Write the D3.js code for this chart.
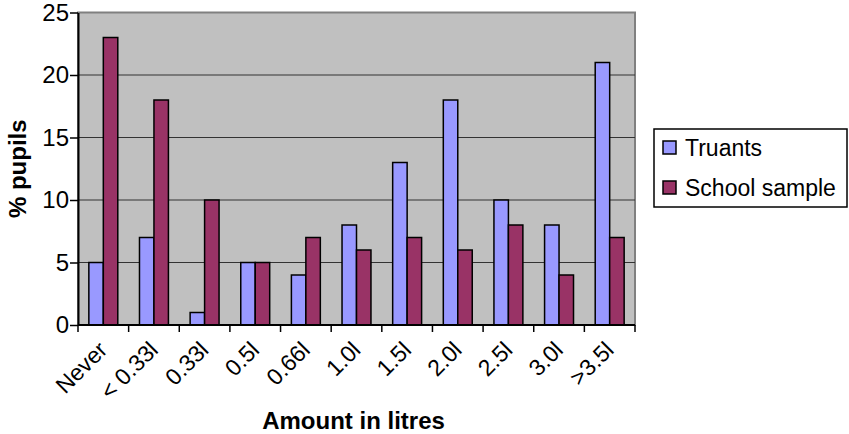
<!DOCTYPE html>
<html>
<meta charset="utf-8">
<head>
<title>Amount in litres</title>
<style>
  body { margin: 0; background: #fff; }
  text { font-family: "Liberation Sans", Arial, sans-serif; }
</style>
<script src="https://d3js.org/d3.v7.min.js"></script>
</head>
<body>
<div id="chart"></div>
<script>

// data
var categories = ["Never", "< 0.33l", "0.33l", "0.5l", "0.66l", "1.0l", "1.5l", "2.0l", "2.5l", "3.0l", ">3.5l"];
var truants = [5, 7, 1, 5, 4, 8, 13, 18, 10, 8, 21];
var school = [23, 18, 10, 5, 7, 6, 7, 6, 8, 4, 7];
var seriesNames = ["Truants", "School sample"];
var yTicks = [0, 5, 10, 15, 20, 25];

var colors = ["#9999ff", "#993366"];

var W = 849, H = 434;
var plot = {left: 78, right: 635, top: 12.5, bottom: 325};

var svg = d3.select("#chart").append("svg")
  .attr("width", W).attr("height", H);

var x = d3.scaleBand()
  .domain(categories)
  .range([plot.left, plot.right])
  .paddingInner(0).paddingOuter(0);

var y = d3.scaleLinear()
  .domain([0, 25])
  .range([plot.bottom, plot.top]);

// bar width like excel gap width 150%
var barW = x.bandwidth() / 3.5;
var xs = d3.scaleBand().domain([0, 1])
  .range([x.bandwidth() / 2 - barW, x.bandwidth() / 2 + barW]);

// plot background
svg.append("rect")
  .attr("x", plot.left).attr("y", plot.top)
  .attr("width", plot.right - plot.left)
  .attr("height", plot.bottom - plot.top)
  .style("fill", "#c0c0c0")
  .style("stroke", "#808080")
  .style("stroke-width", 2);

// gridlines
svg.selectAll(".grid")
  .data(yTicks.slice(1, -1)).enter()
  .append("line")
  .attr("x1", plot.left).attr("x2", plot.right)
  .attr("y1", function(d) { return y(d); })
  .attr("y2", function(d) { return y(d); })
  .style("stroke", "#333")
  .style("stroke-width", 1.2);

// bars
var rows = categories.map(function(c, i) { return {cat: c, vals: [truants[i], school[i]]}; });

var groups = svg.selectAll(".grp")
  .data(rows).enter()
  .append("g")
  .attr("transform", function(d) { return "translate(" + x(d.cat) + ",0)"; });

groups.selectAll("rect")
  .data(function(d) { return d.vals; }).enter()
  .append("rect")
  .attr("x", function(d, i) { return xs(i); })
  .attr("width", xs.bandwidth())
  .attr("y", function(d) { return y(d); })
  .attr("height", function(d) { return y(0) - y(d); })
  .style("fill", function(d, i) { return colors[i]; })
  .style("stroke", "#000")
  .style("stroke-width", 1.5);

// y axis
var yAxis = svg.append("g")
  .attr("transform", "translate(" + plot.left + ",0)")
  .call(d3.axisLeft(y).tickValues(yTicks).tickSize(8).tickSizeOuter(0));
yAxis.select(".domain").style("stroke", "#000").style("stroke-width", 2);
yAxis.selectAll(".tick line").style("stroke", "#000").style("stroke-width", 1.5);
yAxis.selectAll("text")
  .attr("x", -9)
  .style("font-size", "24px")
  .style("font-family", "Liberation Sans, Arial, sans-serif")
  .style("fill", "#000");

// x axis: ticks between categories
var xEdges = categories.map(function(c) { return x(c); }).concat([plot.right]);
svg.append("line")
  .attr("x1", plot.left).attr("x2", plot.right)
  .attr("y1", plot.bottom).attr("y2", plot.bottom)
  .style("stroke", "#000").style("stroke-width", 2);
svg.selectAll(".xtick")
  .data(xEdges).enter()
  .append("line")
  .attr("x1", function(d) { return d; }).attr("x2", function(d) { return d; })
  .attr("y1", plot.bottom).attr("y2", plot.bottom + 7)
  .style("stroke", "#000").style("stroke-width", 1.5);

svg.selectAll(".xlab")
  .data(categories).enter()
  .append("text")
  .attr("transform", function(d) {
    return "translate(" + (x(d) + x.bandwidth() / 2 - 6) + "," + (plot.bottom + 15) + ") rotate(-45)";
  })
  .attr("text-anchor", "end")
  .attr("dy", "0.7em")
  .style("font-size", "23px")
  .text(function(d) { return d; });

// axis titles
svg.append("text")
  .attr("x", (plot.left + plot.right) / 2 - 3)
  .attr("y", 429)
  .attr("text-anchor", "middle")
  .style("font-size", "24px")
  .style("font-weight", "bold")
  .text("Amount in litres");

svg.append("text")
  .attr("transform", "translate(18," + ((plot.top + plot.bottom) / 2) + ") rotate(-90)")
  .attr("text-anchor", "middle")
  .attr("dy", "0.35em")
  .style("font-size", "24px")
  .style("font-weight", "bold")
  .text("% pupils");

// legend
var legend = svg.append("g").attr("transform", "translate(654,129)");
legend.append("rect")
  .attr("width", 193).attr("height", 78)
  .style("fill", "#fff")
  .style("stroke", "#000")
  .style("stroke-width", 1.5);

var items = legend.selectAll(".item")
  .data(seriesNames).enter()
  .append("g")
  .attr("transform", function(d, i) { return "translate(9," + (19 + i * 40) + ")"; });
items.append("rect")
  .attr("y", -7).attr("width", 13).attr("height", 13)
  .style("fill", function(d, i) { return colors[i]; })
  .style("stroke", "#000")
  .style("stroke-width", 1.5);
items.append("text")
  .attr("x", 22).attr("dy", "0.35em")
  .style("font-size", "23px")
  .text(function(d) { return d; });

</script>
</body>
</html>
